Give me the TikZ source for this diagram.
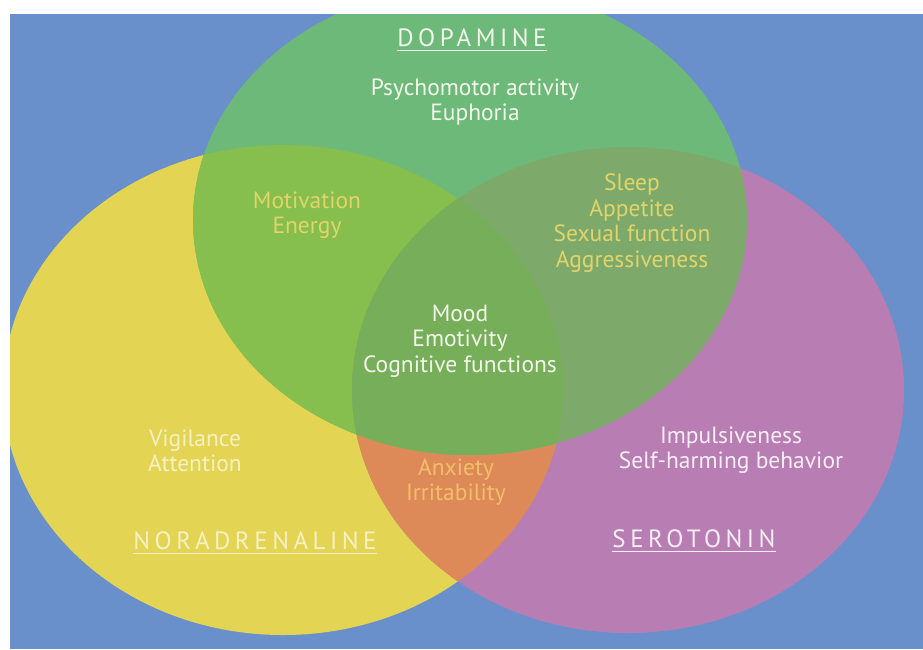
\documentclass[tikz,border=0pt]{standalone}
\usepackage{fontspec}
\setmainfont{PT Sans}
\newfontfamily\capsfont[LetterSpace=18]{PT Sans}
\definecolor{bgblue}{HTML}{6A90CB}
\definecolor{cgreen}{HTML}{6DB97A}
\definecolor{cyel}{HTML}{E3D553}
\definecolor{cpink}{HTML}{B87EB4}
\definecolor{cgy}{HTML}{86BF4E}
\definecolor{cgp}{HTML}{7DAA6B}
\definecolor{call}{HTML}{77AE5A}
\definecolor{corange}{HTML}{DE8A58}
\definecolor{twhite}{HTML}{F2F8EA}
\definecolor{tyel}{HTML}{E2D46A}
\definecolor{torange}{HTML}{F2BE6A}
\definecolor{tpink}{HTML}{F8EEF6}
\definecolor{tlyel}{HTML}{F6F0C4}
\tikzset{
  txt/.style={font=\fontsize{23.5}{25.5}\selectfont, align=center, inner sep=0pt},
  capslbl/.style={font=\capsfont\fontsize{25}{28}\selectfont, inner sep=0pt},
  underl/.style={line width=1.3pt},
  yelE/.style={x radius=280, y radius=245},
  pinkE/.style={x radius=276, y radius=243},
  greenE/.style={x radius=277, y radius=235}
}
\begin{document}
\begin{tikzpicture}[x=1pt,y=-1pt]
\useasboundingbox (0,0) rectangle (923,649);
\fill[white] (0,0) rectangle (923,649);
\fill[bgblue] (10,14) rectangle (923,649);
\begin{scope}
  \clip (10,14) rectangle (923,649);
  \fill[cyel] (283,390) ellipse [yelE];
  \fill[cpink] (628,390) ellipse [pinkE];
  \fill[cgreen] (470,220) ellipse [greenE];
  \begin{scope}
    \clip (283,390) ellipse [yelE];
    \fill[corange] (628,390) ellipse [pinkE];
  \end{scope}
  \begin{scope}
    \clip (283,390) ellipse [yelE];
    \fill[cgy] (470,220) ellipse [greenE];
  \end{scope}
  \begin{scope}
    \clip (628,390) ellipse [pinkE];
    \fill[cgp] (470,220) ellipse [greenE];
  \end{scope}
  \begin{scope}
    \clip (283,390) ellipse [yelE];
    \clip (628,390) ellipse [pinkE];
    \fill[call] (470,220) ellipse [greenE];
  \end{scope}
\end{scope}

\node[capslbl, text=twhite] (dop) at (472,38) {DOPAMINE};
\draw[underl, twhite] ([yshift=-4pt]dop.base west) -- ([yshift=-4pt]dop.base east);
\node[txt, text=twhite] (dtxt) at (475,102) {Psychomotor activity\\Euphoria};
\node[txt, text=tyel] (gy) at (307,215) {Motivation\\Energy};
\node[txt, text=tyel] (gp) at (632,223) {Sleep\\Appetite\\Sexual function\\Aggressiveness};
\node[txt, text=twhite] (mid) at (460,341) {Mood\\Emotivity\\Cognitive functions};
\node[txt, text=tlyel] (ytxt) at (195,451) {Vigilance\\Attention};
\node[txt, text=torange] (yp) at (456,482) {Anxiety\\Irritability};
\node[txt, text=tpink] (ptxt) at (731,450) {Impulsiveness\\Self-harming behavior};

\node[capslbl, text=tlyel] (nor) at (255,541) {NORADRENALINE};
\draw[underl, tlyel] ([yshift=-4pt]nor.base west) -- ([yshift=-4pt]nor.base east);
\node[capslbl, text=tpink] (ser) at (694,539) {SEROTONIN};
\draw[underl, tpink] ([yshift=-4pt]ser.base west) -- ([yshift=-4pt]ser.base east);
\end{tikzpicture}
\end{document}
